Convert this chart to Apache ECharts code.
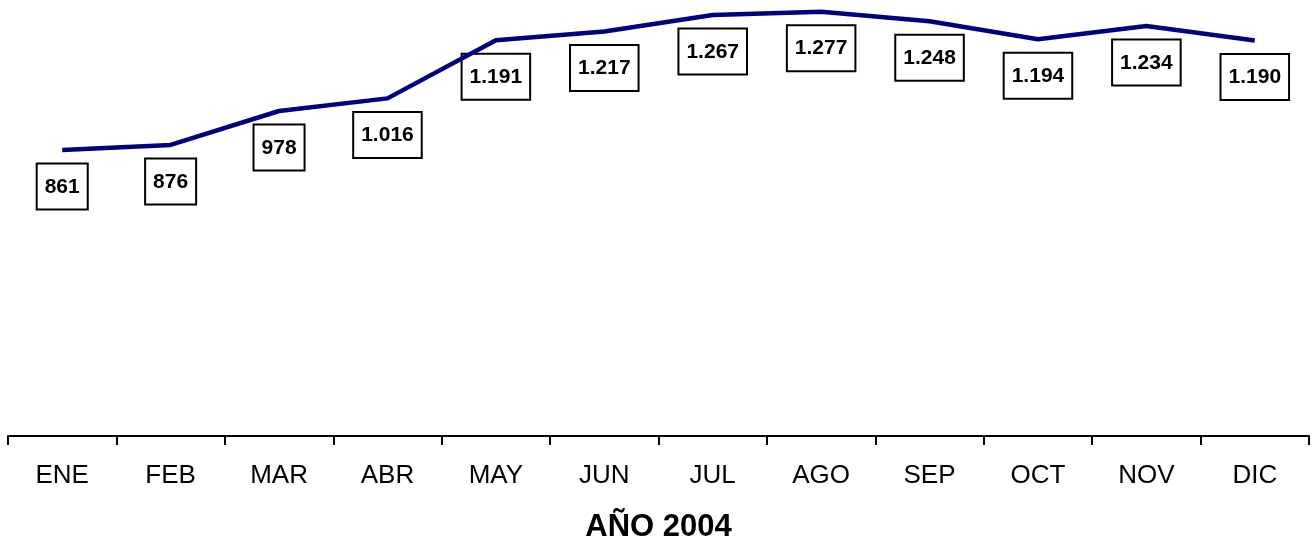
<!DOCTYPE html>
<html>
<head>
<meta charset="utf-8">
<title>AÑO 2004</title>
<script src="https://cdn.jsdelivr.net/npm/echarts@6/dist/echarts.min.js"></script>
<style>
  html, body { margin: 0; padding: 0; background: #fff; }
  #chart { width: 1316px; height: 542px; }
</style>
</head>
<body>
<div id="chart"></div>
<script>
// datos
var meses = ['ENE', 'FEB', 'MAR', 'ABR', 'MAY', 'JUN', 'JUL', 'AGO', 'SEP', 'OCT', 'NOV', 'DIC'];
var valores = [861, 876, 978, 1016, 1191, 1217, 1267, 1277, 1248, 1194, 1234, 1190];
var tituloEje = 'AÑO 2004';

// 1.191 en vez de 1191
function miles(v) {
  var s = String(v);
  return s.replace(/\B(?=(\d{3})+(?!\d))/g, '.');
}

var chart = echarts.init(document.getElementById('chart'));

var option = {
  backgroundColor: '#fff',
  animation: false,
  grid: { left: 8, right: 7, top: 4, bottom: 106, containLabel: false, outerBoundsMode: 'none' },
  xAxis: {
    type: 'category',
    data: meses,
    boundaryGap: true,
    axisLine: { lineStyle: { color: '#000', width: 2 } },
    axisTick: { show: true, length: 9, lineStyle: { color: '#000', width: 2 } },
    axisLabel: {
      color: '#000',
      fontFamily: 'Liberation Sans, Arial, sans-serif',
      fontSize: 26,
      margin: 27
    },
    name: tituloEje,
    nameLocation: 'middle',
    nameGap: 76,
    nameTextStyle: {
      color: '#000',
      fontFamily: 'Liberation Sans, Arial, sans-serif',
      fontSize: 31,
      fontWeight: 'bold'
    }
  },
  yAxis: {
    type: 'value',
    min: 0,
    max: 1300,
    show: false,
    splitLine: { show: false }
  },
  series: [
    // etiquetas (debajo de la linea)
    {
      type: 'line',
      data: valores,
      z: 2,
      symbol: 'circle',
      symbolSize: 1,
      showSymbol: true,
      showAllSymbol: true,
      itemStyle: { color: 'rgba(0,0,0,0)', borderWidth: 0 },
      lineStyle: { width: 0, color: 'rgba(0,0,0,0)' },
      label: {
        show: true,
        position: 'bottom',
        distance: 14,
        formatter: function (p) { return miles(p.value); },
        color: '#000',
        fontFamily: 'Liberation Sans, Arial, sans-serif',
        fontSize: 21,
        fontWeight: 'bold',
        backgroundColor: '#fff',
        borderColor: '#000',
        borderWidth: 2,
        padding: [12, 7, 11, 7]
      }
    },
    // linea
    {
      type: 'line',
      data: valores,
      z: 3,
      symbol: 'none',
      lineStyle: { color: '#000080', width: 4.5 },
      label: { show: false }
    }
  ]
};

chart.setOption(option);
</script>
</body>
</html>
